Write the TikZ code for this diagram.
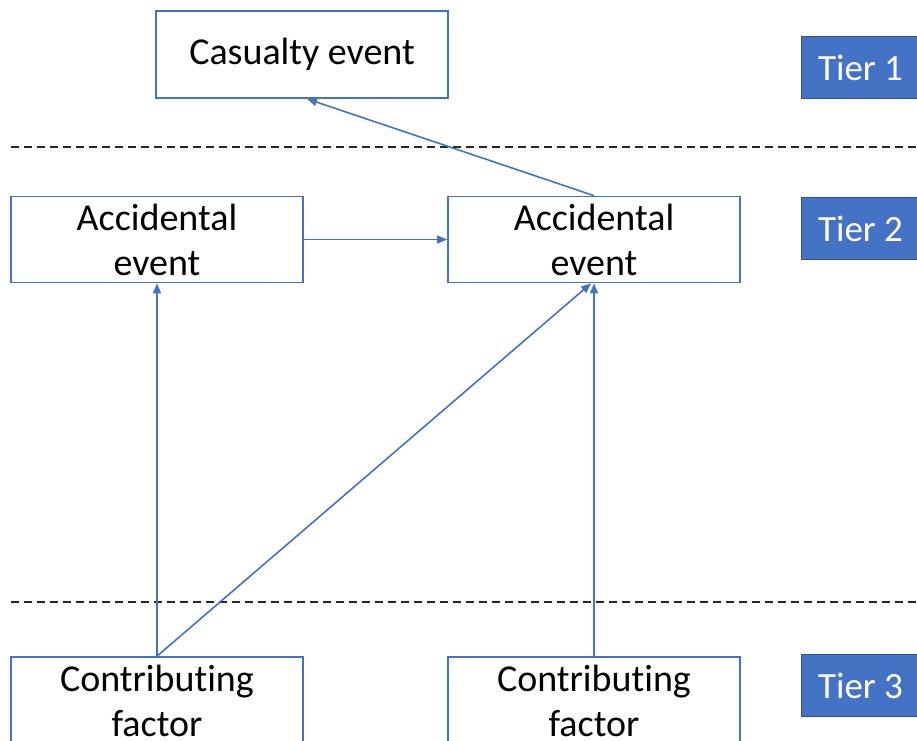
\documentclass[tikz,border=0pt]{standalone}
\usepackage{fontspec}
\setmainfont{Carlito}[Ligatures=NoCommon]
\usetikzlibrary{arrows.meta}
\definecolor{officeblue}{HTML}{4472C4}
\definecolor{officeedge}{HTML}{2F528F}
\tikzset{
  eventbox/.style={draw=officeblue, line width=1.7pt, fill=white, rectangle,
    minimum width=292pt, minimum height=86pt, inner sep=0pt, align=center,
    font=\fontsize{38}{45}\selectfont, text=black},
  tierbox/.style={draw=officeedge, line width=1pt, fill=officeblue, rectangle,
    minimum width=120pt, minimum height=62pt, inner sep=0pt,
    font=\fontsize{37}{44}\selectfont, text=white, anchor=north west},
  tierline/.style={draw=black!85, line width=1.6pt, dash pattern=on 8pt off 5pt},
  link/.style={draw=officeblue, line width=1.6pt,
    -{Triangle[length=10pt,width=8pt]}}
}
\begin{document}
\begin{tikzpicture}[x=1pt,y=-1pt]
  \useasboundingbox (0,0) rectangle (917,740);
  \fill[white] (0,0) rectangle (917,740);

  % tier separators
  \coordinate (sepAl) at (11,147);
  \coordinate (sepAr) at (917,147);
  \coordinate (sepBl) at (11,602);
  \coordinate (sepBr) at (917,602);
  \draw[tierline] (sepAl) -- (sepAr);
  \draw[tierline] (sepBl) -- (sepBr);

  % events
  \node[eventbox, minimum height=87pt] (cas) at (302,54.5) {Casualty event};
  \node[eventbox] (acc1) at (157,239.5) {Accidental\\event};
  \node[eventbox] (acc2) at (594,239.5) {Accidental\\event};
  \node[eventbox, minimum height=87pt] (con1) at (157,700.5) {Contributing\\factor};
  \node[eventbox, minimum height=87pt] (con2) at (594,700.5) {Contributing\\factor};

  % tier labels
  \node[tierbox] (t1) at (801,36) {Tier 1\hspace*{2pt}};
  \node[tierbox] (t2) at (801,197) {Tier 2\hspace*{2pt}};
  \node[tierbox] (t3) at (801,654) {Tier 3\hspace*{2pt}};

  % causal links
  \draw[link] (acc2.north) -- ([xshift=5pt]cas.south);
  \draw[link] (acc1.east) -- (acc2.west);
  \draw[link] (con1.north) -- (acc1.south);
  \draw[link] (con1.north) -- ([xshift=-3pt]acc2.south);
  \draw[link] (con2.north) -- (acc2.south);
\end{tikzpicture}
\end{document}
